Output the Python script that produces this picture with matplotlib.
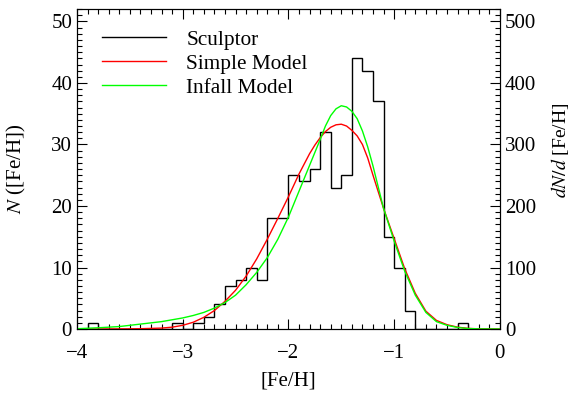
import numpy as np
import matplotlib
matplotlib.use('Agg')
import matplotlib.pyplot as plt
from matplotlib.ticker import MultipleLocator

plt.rcParams['font.family'] = ['Liberation Serif', 'DejaVu Serif']
plt.rcParams['mathtext.fontset'] = 'stix'

# Sculptor [Fe/H] histogram, bins of 0.1 dex from -4.0 to 0.0
bin_edges = np.round(np.arange(-4.0, 0.001, 0.1), 2)
sculptor_counts = [0, 1, 0, 0, 0, 0, 0, 0, 0, 1,
                   0, 1, 2, 4, 7, 8, 10, 8, 18, 18,
                   25, 24, 26, 32, 23, 25, 44, 42, 37, 15,
                   10, 3, 0, 0, 0, 0, 1, 0, 0, 0]

# model curves, dN/d[Fe/H] (right axis units)
simple_feh = [-4.0, -3.8, -3.6, -3.4, -3.2, -3.1, -3.0, -2.9, -2.8, -2.7,
              -2.6, -2.5, -2.4, -2.3, -2.2, -2.1, -2.0, -1.9, -1.8, -1.75,
              -1.7, -1.65, -1.6, -1.55, -1.5, -1.45, -1.4, -1.35, -1.3, -1.25,
              -1.2, -1.1, -1.0, -0.9, -0.8, -0.7, -0.6, -0.5, -0.4, -0.3,
              -0.2, 0.0]
simple_dn = [0, 0, 0.2, 0.5, 1.5, 3, 6, 11, 19, 30,
             45, 63, 86, 114, 146, 180, 215, 252, 285, 299,
             311, 321, 328, 332, 333, 330, 323, 314, 300, 278,
             250, 196, 147, 98, 58, 29, 14, 7, 3, 1,
             0.3, 0]

infall_feh = [-4.0, -3.8, -3.6, -3.4, -3.2, -3.0, -2.9, -2.8, -2.7, -2.6,
              -2.5, -2.4, -2.3, -2.2, -2.1, -2.0, -1.9, -1.8, -1.75, -1.7,
              -1.65, -1.6, -1.55, -1.5, -1.45, -1.4, -1.35, -1.3, -1.25, -1.2,
              -1.1, -1.0, -0.9, -0.8, -0.7, -0.6, -0.5, -0.4, -0.3, -0.2,
              0.0]
infall_dn = [0.5, 2, 4, 8, 12, 18, 22, 27, 34, 43,
             55, 72, 92, 116, 146, 182, 224, 266, 287, 308,
             330, 347, 358, 363, 361, 354, 342, 322, 296, 265,
             196, 143, 94, 55, 27, 12, 6, 2.5, 0.8, 0.2,
             0]

fig = plt.figure(figsize=(5.7, 3.99), dpi=100)
ax = fig.add_axes([0.135, 0.1754, 0.742, 0.8016])
ax2 = ax.twinx()

ax.stairs(sculptor_counts, bin_edges, color='black', lw=1.0,
          label='Sculptor')
ax2.plot(simple_feh, simple_dn, color='#ff0000', lw=1.0)
ax2.plot(infall_feh, infall_dn, color='#00ff00', lw=1.0)
# dummy handles so the legend sits on one axis
ax.plot([], [], color='#ff0000', lw=1.0, label='Simple Model')
ax.plot([], [], color='#00ff00', lw=1.0, label='Infall Model')

ax.set_xlim(-4, 0)
ax.set_ylim(0, 52)
ax2.set_ylim(0, 520)

ax.xaxis.set_major_locator(MultipleLocator(1))
ax.xaxis.set_minor_locator(MultipleLocator(0.1))
ax.yaxis.set_major_locator(MultipleLocator(10))
ax.yaxis.set_minor_locator(MultipleLocator(1))
ax2.yaxis.set_major_locator(MultipleLocator(100))
ax2.yaxis.set_minor_locator(MultipleLocator(10))

ax.tick_params(which='both', direction='in', top=True, right=False,
               labelsize=15)
ax.tick_params(which='major', length=7, width=0.8)
ax.tick_params(which='minor', length=3.5, width=0.8)
ax.tick_params(axis='x', which='major', pad=11)
ax2.tick_params(which='both', direction='in', labelsize=15)
ax2.tick_params(which='major', length=7, width=0.8)
ax2.tick_params(which='minor', length=3.5, width=0.8)

ax.set_xlabel('[Fe/H]', fontsize=15, labelpad=6)
ax.set_ylabel(r'$N$ ([Fe/H])', fontsize=15)
ax.yaxis.set_label_coords(-0.116, 0.5)
ax2.set_ylabel(r'$dN/d$ [Fe/H]', fontsize=14)
ax2.yaxis.set_label_coords(1.116, 0.56)

ax.legend(loc='upper left', bbox_to_anchor=(0.161, 0.952),
          bbox_transform=fig.transFigure, frameon=False, fontsize=15.3,
          handlelength=3.0, handletextpad=0.95, borderpad=0,
          labelspacing=0.2)

fig.savefig('out.png', dpi=100)
